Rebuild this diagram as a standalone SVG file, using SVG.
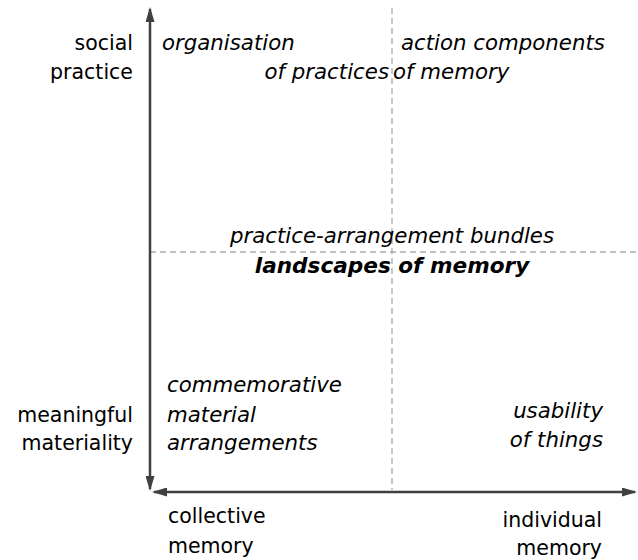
<svg xmlns="http://www.w3.org/2000/svg" width="638" height="560" viewBox="0 0 638 560">
<style>
text{font-family:"DejaVu Sans","Verdana",sans-serif;font-size:20.5px;fill:#000}
.it{font-style:italic;font-size:21.3px}
.b{font-weight:bold;font-size:21.6px}
.r{text-anchor:end}
.ax{stroke:#404040;stroke-width:2.5;fill:none}
.dash{stroke:#aaaaaa;stroke-width:1.3;stroke-dasharray:6,4;fill:none}
</style>
<defs>
<marker id="ah" viewBox="0 0 15 9" refX="13" refY="4.5" markerWidth="15" markerHeight="9" orient="auto-start-reverse" markerUnits="userSpaceOnUse">
<path d="M0,0 L15,4.5 L0,9 z" fill="#404040"/>
</marker>
</defs>
<rect width="638" height="560" fill="#fff"/>
<g id="grid">
<line class="dash" x1="392" y1="8" x2="392" y2="490"/>
<line class="dash" x1="150" y1="252" x2="638" y2="252"/>
</g>
<g id="connectors">
<line class="ax" x1="150" y1="9" x2="150" y2="489" marker-start="url(#ah)" marker-end="url(#ah)"/>
<line class="ax" x1="154" y1="492" x2="635" y2="492" marker-start="url(#ah)" marker-end="url(#ah)"/>
</g>
<g id="axis-labels">
<text class="r" x="133" y="50">social</text>
<text class="r" x="133" y="79">practice</text>
<text class="r" x="133" y="422">meaningful</text>
<text class="r" x="133" y="450">materiality</text>
<text x="168" y="523">collective</text>
<text x="168" y="553">memory</text>
<text class="r" x="602" y="527">individual</text>
<text class="r" x="602" y="555">memory</text>
</g>
<g id="q-top-left">
<text class="it" x="162" y="50">organisation</text>
<text class="it r" x="389" y="79">of practices</text>
</g>
<g id="q-top-right">
<text class="it" x="401" y="50">action components</text>
<text class="it" x="393" y="79">of memory</text>
</g>
<g id="center">
<text class="it" x="392" y="243" text-anchor="middle">practice-arrangement bundles</text>
<text class="it b" x="392" y="273" text-anchor="middle">landscapes of memory</text>
</g>
<g id="q-bottom-left">
<text class="it" x="167" y="392">commemorative</text>
<text class="it" x="167" y="422">material</text>
<text class="it" x="167" y="450">arrangements</text>
</g>
<g id="q-bottom-right">
<text class="it r" x="603" y="418">usability</text>
<text class="it r" x="603" y="447">of things</text>
</g>
</svg>
